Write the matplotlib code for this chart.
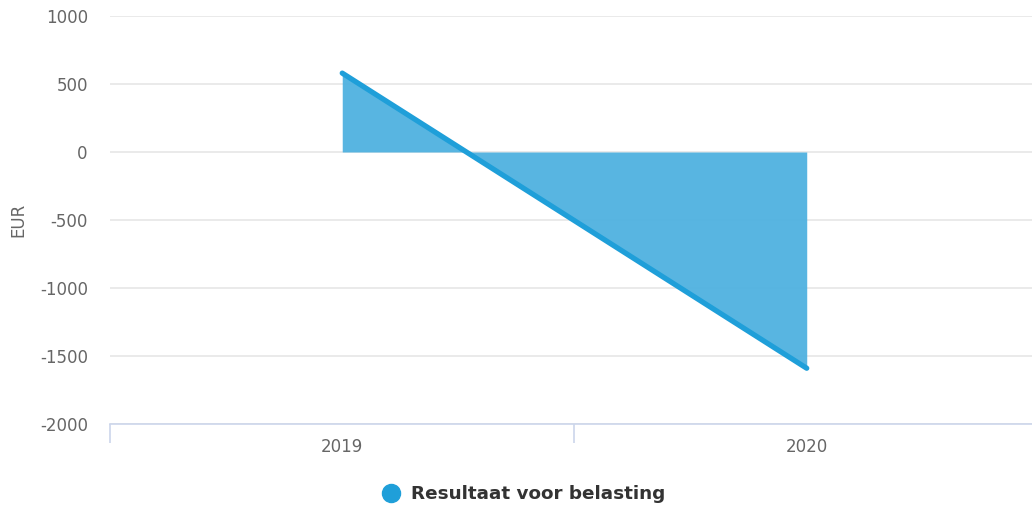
import matplotlib
matplotlib.use("Agg")
import matplotlib.pyplot as plt
from matplotlib.lines import Line2D
import numpy as np

plt.rcParams["font.family"] = "DejaVu Sans"

# data
years = ["2019", "2020"]
resultaat = [580, -1590]
y_ticks = [-2000, -1500, -1000, -500, 0, 500, 1000]

LINE_C = "#1f9fd9"
FILL_C = "#4fb1e0"
GRID_C = "#e6e6e6"
TEXT_C = "#666666"

fig = plt.figure(figsize=(10.32, 5.11), dpi=100)
ax = fig.add_axes([110 / 1032, 87 / 511, 1 - 110 / 1032, (424 - 16) / 511])

x = np.arange(len(years))
ax.fill_between(x, resultaat, 0, color=FILL_C, alpha=0.95, linewidth=0, zorder=2)
ax.plot(x, resultaat, color=LINE_C, linewidth=3.8, solid_capstyle="round", zorder=3)

ax.set_yticks(y_ticks)
ax.set_yticklabels([str(v) for v in y_ticks], fontsize=12, color=TEXT_C)
ax.grid(axis="y", color=GRID_C, linewidth=1.2, zorder=0)
ax.tick_params(axis="y", length=0, pad=16)

# category labels and boundary ticks
ax.set_xticks(x)
ax.set_xticklabels(years, fontsize=12, color=TEXT_C)
ax.tick_params(axis="x", which="major", length=0, pad=10)
ax.set_xticks([-0.5, 0.5], minor=True)
ax.tick_params(axis="x", which="minor", length=14, color="#ccd6eb", width=1.2)

ax.set_ylim(-2000, 1000)
ax.set_xlim(-0.5, 1.485)

for s in ["top", "right", "left"]:
    ax.spines[s].set_visible(False)
ax.spines["bottom"].set_color("#ccd6eb")
ax.spines["bottom"].set_linewidth(1.2)
ax.set_axisbelow(True)

fig.text(18 / 1032, 1 - 220 / 511, "EUR", rotation=90, fontsize=12, color=TEXT_C,
         ha="center", va="center")

handle = Line2D([], [], marker="o", linestyle="none", markersize=13,
                markerfacecolor=LINE_C, markeredgecolor=LINE_C)
leg = fig.legend([handle], ["Resultaat voor belasting"], loc="center",
                 bbox_to_anchor=(519 / 1032, 1 - 494 / 511), frameon=False,
                 handletextpad=0.1, prop={"size": 13.2, "weight": "bold"})
for t in leg.get_texts():
    t.set_color("#333333")

fig.savefig("out.png", dpi=100)
